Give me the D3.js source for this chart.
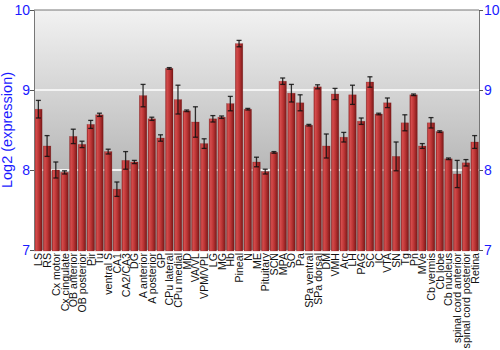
<!DOCTYPE html>
<html>
<head>
<meta charset="utf-8">
<script src="https://d3js.org/d3.v7.min.js"></script>
<style>
  body { margin: 0; background: #fff; }
  text { font-family: "Liberation Sans", Arial, sans-serif; }
</style>
</head>
<body>
<div id="chart"></div>
<script>
const categories = ["LS", "RS", "Cx motor", "Cx cingulate", "OB anterior", "OB posterior", "Pir", "Tu",
  "ventral S", "CA1", "CA2/CA3", "DG", "A anterior", "A posterior", "GP", "CPu lateral", "CPu medial",
  "MD", "VA/VL", "VPM/VPL", "LG", "MG", "Hb", "Pineal", "N", "ME", "Pituitary", "SCN", "MPA", "SO",
  "Pa", "SPa ventral", "SPa dorsal", "DM", "VMH", "Arc", "LH", "PAG", "SC", "IC", "VTA", "SN", "Tg",
  "Pn", "MVe", "Cb vermis", "Cb lobe", "Cb nucleus", "spinal cord anterior", "spinal cord posterior", "Retina"];

const means = [8.76, 8.30, 8.00, 7.97, 8.42, 8.32, 8.57, 8.69, 8.23, 7.76, 8.12, 8.10, 8.93, 8.64, 8.40,
  9.27, 8.88, 8.74, 8.60, 8.33, 8.64, 8.66, 8.83, 9.58, 8.76, 8.10, 7.98, 8.22, 9.11, 8.96, 8.84, 8.56,
  9.04, 8.30, 8.95, 8.41, 8.94, 8.61, 9.10, 8.70, 8.84, 8.17, 8.59, 8.94, 8.30, 8.59, 8.48, 8.14, 7.95,
  8.09, 8.35];

const errors = [0.11, 0.13, 0.10, 0.02, 0.09, 0.04, 0.05, 0.02, 0.03, 0.09, 0.11, 0.02, 0.14, 0.02, 0.04,
  0.01, 0.18, 0.01, 0.19, 0.06, 0.04, 0.015, 0.09, 0.04, 0.01, 0.06, 0.03, 0.01, 0.04, 0.11, 0.10, 0.01,
  0.025, 0.15, 0.07, 0.06, 0.12, 0.04, 0.065, 0.01, 0.06, 0.18, 0.10, 0.01, 0.03, 0.065, 0.01, 0.01, 0.17,
  0.04, 0.08];

const yTicks = [7, 8, 9, 10];
const yTitle = "Log2 (expression)";

const width = 500, height = 350;
const mLeft = 34, mRight = 479, mTop = 10, mBottom = 250;

const data = categories.map((c, i) => ({ name: c, mean: means[i], err: errors[i] }));

const svg = d3.select("#chart").append("svg")
  .attr("width", width)
  .attr("height", height);

const defs = svg.append("defs");

const bg = defs.append("linearGradient")
  .attr("id", "bg").attr("x1", 0).attr("y1", 0).attr("x2", 0).attr("y2", 1);
bg.append("stop").attr("offset", "0%").attr("stop-color", "#f2f2f2");
bg.append("stop").attr("offset", "100%").attr("stop-color", "#9a9a9a");

const barGrad = defs.append("linearGradient")
  .attr("id", "bar").attr("x1", 0).attr("y1", 0).attr("x2", 1).attr("y2", 0);
barGrad.append("stop").attr("offset", "0%").attr("stop-color", "#9e2a2a");
barGrad.append("stop").attr("offset", "20%").attr("stop-color", "#d44c4c");
barGrad.append("stop").attr("offset", "55%").attr("stop-color", "#bb3434");
barGrad.append("stop").attr("offset", "100%").attr("stop-color", "#7a1818");

const x = d3.scaleBand()
  .domain(categories)
  .range([mLeft, mRight])
  .paddingInner(0.14)
  .paddingOuter(0.07);

const y = d3.scaleLinear()
  .domain([7, 10])
  .range([mBottom, mTop]);

// plot background
svg.append("rect")
  .attr("x", mLeft).attr("y", mTop)
  .attr("width", mRight - mLeft).attr("height", mBottom - mTop)
  .attr("fill", "url(#bg)");

// grid lines
svg.append("g").selectAll("line")
  .data(yTicks.filter(t => t > 7 && t < 10))
  .join("line")
  .attr("x1", mLeft).attr("x2", mRight)
  .attr("y1", d => y(d)).attr("y2", d => y(d))
  .attr("stroke", "#f4f4f4")
  .attr("stroke-width", 2);

// bars
svg.append("g").selectAll("rect")
  .data(data)
  .join("rect")
  .attr("x", d => x(d.name))
  .attr("y", d => y(d.mean))
  .attr("width", x.bandwidth())
  .attr("height", d => y(7) - y(d.mean) + 1)
  .attr("fill", "url(#bar)")
  .attr("stroke", "rgba(120,20,20,0.35)")
  .attr("stroke-width", 0.6);

// error bars
const eb = svg.append("g")
  .attr("stroke", "#111")
  .attr("stroke-opacity", 0.85)
  .attr("stroke-width", 1.3);

const cap = 2.5;
eb.selectAll(".stem")
  .data(data)
  .join("line")
  .attr("x1", d => x(d.name) + x.bandwidth() / 2)
  .attr("x2", d => x(d.name) + x.bandwidth() / 2)
  .attr("y1", d => y(d.mean + d.err))
  .attr("y2", d => y(d.mean - d.err));

eb.selectAll(".capTop")
  .data(data)
  .join("line")
  .attr("x1", d => x(d.name) + x.bandwidth() / 2 - cap)
  .attr("x2", d => x(d.name) + x.bandwidth() / 2 + cap)
  .attr("y1", d => y(d.mean + d.err))
  .attr("y2", d => y(d.mean + d.err));

eb.selectAll(".capBot")
  .data(data)
  .join("line")
  .attr("x1", d => x(d.name) + x.bandwidth() / 2 - cap)
  .attr("x2", d => x(d.name) + x.bandwidth() / 2 + cap)
  .attr("y1", d => y(d.mean - d.err))
  .attr("y2", d => y(d.mean - d.err));

// frame line
svg.append("line")
  .attr("x1", mLeft).attr("x2", mRight).attr("y1", mTop).attr("y2", mTop)
  .attr("stroke", "#777").attr("stroke-width", 1);

// axes
const yLeft = d3.axisLeft(y).tickValues(yTicks).tickSize(4).tickFormat(d3.format("d"));
const yRight = d3.axisRight(y).tickValues(yTicks).tickSize(4).tickFormat(d3.format("d"));

const gl = svg.append("g").attr("transform", `translate(${mLeft},0)`).call(yLeft);
const gr = svg.append("g").attr("transform", `translate(${mRight},0)`).call(yRight);

[gl, gr].forEach(g => {
  g.select(".domain").attr("stroke", "#777");
  g.selectAll(".tick line").attr("stroke", "#555");
  g.selectAll(".tick text")
    .attr("fill", "#1a1aff")
    .style("font-size", "14px");
});
gl.selectAll(".tick text").attr("x", -4);
gr.selectAll(".tick text").attr("x", 5);

// category labels
svg.append("g").selectAll("text")
  .data(data)
  .join("text")
  .attr("transform", d => `translate(${x(d.name) + x.bandwidth() / 2 + 4},${mBottom + 3}) rotate(-90)`)
  .attr("text-anchor", "end")
  .style("font-size", "10.6px")
  .attr("fill", "#111")
  .text(d => d.name);

// y title
svg.append("text")
  .attr("transform", `translate(12,${(mTop + mBottom) / 2}) rotate(-90)`)
  .attr("text-anchor", "middle")
  .style("font-size", "14.5px")
  .attr("fill", "#1a1aff")
  .text(yTitle);
</script>
</body>
</html>
